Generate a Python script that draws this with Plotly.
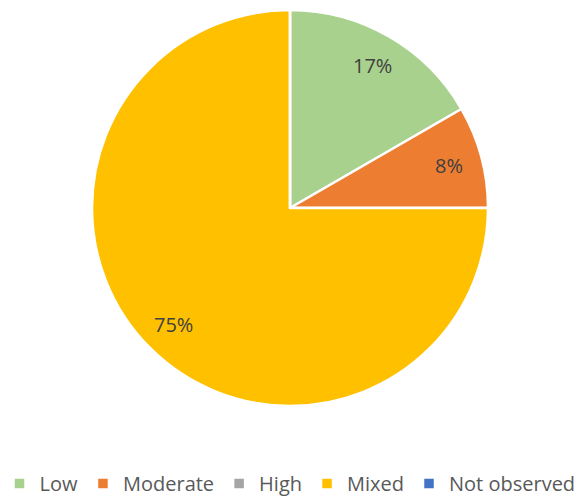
import math
import plotly.graph_objects as go

# Observation counts per level
categories = ["Low", "Moderate", "High", "Mixed", "Not observed"]
counts = [2, 1, 0, 9, 0]
colors = ["#A9D18E", "#ED7D31", "#A5A5A5", "#FFC000", "#4472C4"]

W, H = 580, 503
cx, cy, r = 290, 208, 198  # pie centre and radius in pixels

fig = go.Figure()
fig.add_trace(go.Pie(
    labels=categories,
    values=counts,
    marker=dict(colors=colors, line=dict(color="white", width=2.5)),
    sort=False,
    direction="clockwise",
    rotation=0,
    textinfo="none",
    hoverinfo="label+percent",
    domain=dict(x=[(cx - r) / W, (cx + r) / W], y=[1 - (cy + r) / H, 1 - (cy - r) / H]),
    showlegend=True,
))

# Percentage labels placed along each slice's mid-angle
total = sum(counts)
cum = 0
for name, v in zip(categories, counts):
    if v > 0:
        mid = (cum + v / 2) / total * 2 * math.pi
        rr = 0.83 * r
        x = cx + rr * math.sin(mid)
        y = cy - rr * math.cos(mid)
        fig.add_annotation(
            x=x / W, y=1 - y / H, xref="paper", yref="paper",
            xanchor="center", yanchor="middle",
            text=f"{round(100 * v / total)}%", showarrow=False,
            font=dict(family="Open Sans", size=20, color="#404040"),
        )
    cum += v

fig.update_layout(
    width=W, height=H,
    margin=dict(l=0, r=0, t=0, b=0),
    paper_bgcolor="white",
    plot_bgcolor="white",
    legend=dict(
        orientation="h",
        x=0.5, xanchor="center",
        y=0, yanchor="bottom",
        font=dict(family="Open Sans", size=20, color="#595959"),
        traceorder="normal",
        itemwidth=30,
    ),
)

fig.write_html("out.html")
